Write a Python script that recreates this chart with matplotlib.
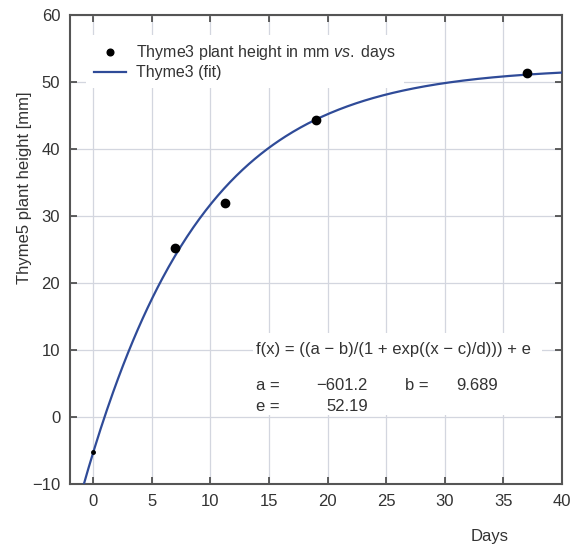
import matplotlib
matplotlib.use('Agg')
import matplotlib.pyplot as plt
import numpy as np
from matplotlib.patches import Rectangle

plt.rcParams['font.family'] = ['Liberation Sans', 'DejaVu Sans']
plt.rcParams['mathtext.fontset'] = 'custom'
plt.rcParams['mathtext.it'] = 'Liberation Sans:italic'
plt.rcParams['mathtext.rm'] = 'Liberation Sans'

# measured data (days, height in mm)
days = [7.0, 11.2, 19.0, 37.0]
height = [25.2, 31.9, 44.3, 51.3]
start_day = [0.0]
start_height = [-5.2]

# fit parameters: f(x) = ((a - b)/(1 + exp((x - c)/d))) + e
a = -601.2
b = 9.689
c = -20.68
d = 9.126
e = 52.19

xticks = [0, 5, 10, 15, 20, 25, 30, 35, 40]
yticks = [-10, 0, 10, 20, 30, 40, 50, 60]

txt = '#333333'
blue = '#2f4b98'
gridc = '#d3d6df'
fs = 12

fig = plt.figure(figsize=(5.78, 5.46), dpi=100)
ax = fig.add_axes([0.121, 0.1136, 0.851, 0.859])

xfit = np.linspace(-2, 40, 400)
yfit = (a - b) / (1 + np.exp((xfit - c) / d)) + e

ax.plot(xfit, yfit, color=blue, lw=1.6, label='Thyme3 (fit)', zorder=3)
ax.plot(days, height, 'o', color='black', ms=6, zorder=4,
        label='Thyme3 plant height in mm $\\mathit{vs.}$ days')
ax.plot(start_day, start_height, 'o', color='black', ms=2.5, zorder=4)

ax.set_xlim(-2, 40)
ax.set_ylim(-10, 60)
ax.set_xticks(xticks)
ax.set_yticks(yticks)
ax.grid(True, color=gridc, lw=0.9, zorder=0)
ax.set_axisbelow(True)
ax.tick_params(direction='in', length=5, width=1.2, colors='#444444',
               labelcolor=txt, labelsize=fs, top=True, right=True, pad=7)
for s in ax.spines.values():
    s.set_color('#555555')
    s.set_linewidth(1.5)

# white box behind the formula text
ax.add_patch(Rectangle((0.372, 0.146), 0.96 - 0.372, 0.175, transform=ax.transAxes,
                       facecolor='white', edgecolor='none', zorder=1))

ax.text(0.378, 0.286, 'f(x) = ((a \u2212 b)/(1 + exp((x \u2212 c)/d))) + e',
        transform=ax.transAxes, fontsize=fs, color=txt, va='center', zorder=2)
ax.text(0.378, 0.211, 'a =', transform=ax.transAxes, fontsize=fs, color=txt, va='center', zorder=2)
ax.text(0.606, 0.211, '\u2212601.2', transform=ax.transAxes, fontsize=fs, color=txt,
        va='center', ha='right', zorder=2)
ax.text(0.681, 0.211, 'b =', transform=ax.transAxes, fontsize=fs, color=txt, va='center', zorder=2)
ax.text(0.870, 0.211, '9.689', transform=ax.transAxes, fontsize=fs, color=txt,
        va='center', ha='right', zorder=2)
ax.text(0.378, 0.165, 'e =', transform=ax.transAxes, fontsize=fs, color=txt, va='center', zorder=2)
ax.text(0.606, 0.165, '52.19', transform=ax.transAxes, fontsize=fs, color=txt,
        va='center', ha='right', zorder=2)

h, l = ax.get_legend_handles_labels()
leg = ax.legend([h[1], h[0]], [l[1], l[0]], loc='upper left',
                bbox_to_anchor=(0.016, 0.974), frameon=True, fontsize=11.5,
                handlelength=2.0, handletextpad=0.65, borderpad=0.5,
                borderaxespad=0.5, labelspacing=0.2, fancybox=False,
                markerscale=0.8)
leg.get_frame().set_edgecolor('none')
leg.get_frame().set_facecolor('white')
leg.get_frame().set_alpha(1)
for t in leg.get_texts():
    t.set_color(txt)

ax.set_xlabel('Days', fontsize=fs, color=txt)
ax.xaxis.set_label_coords(0.854, -0.095)
ax.set_ylabel('Thyme5 plant height [mm]', fontsize=fs, color=txt)
ax.yaxis.set_label_coords(-0.078, 0.631)

fig.savefig('out.png', dpi=100)
